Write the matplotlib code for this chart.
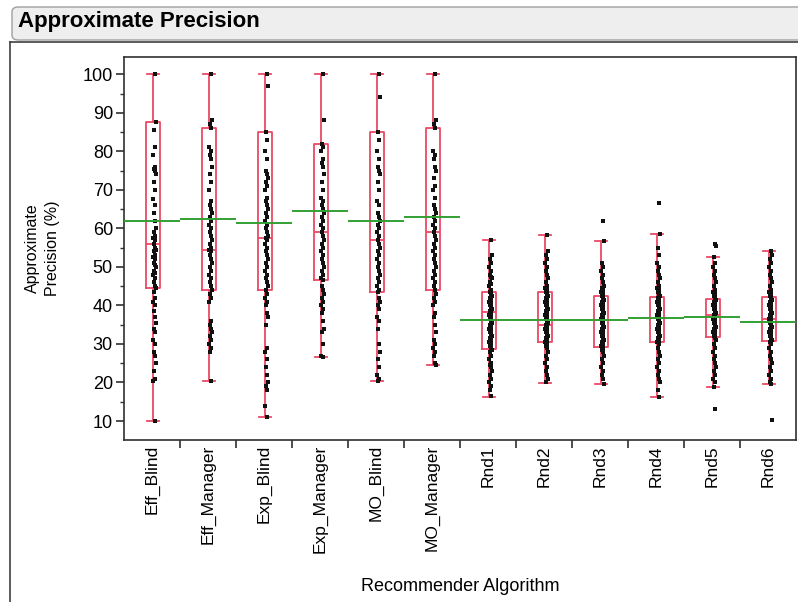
import numpy as np
import matplotlib.pyplot as plt
from matplotlib.patches import FancyBboxPatch
from matplotlib.lines import Line2D

plt.rcParams['font.family'] = ['Liberation Sans', 'DejaVu Sans']

# Skupiny (kategorie na ose x)
categories = ['Eff_Blind', 'Eff_Manager', 'Exp_Blind', 'Exp_Manager', 'MO_Blind', 'MO_Manager',
              'Rnd1', 'Rnd2', 'Rnd3', 'Rnd4', 'Rnd5', 'Rnd6']

# Statistiky krabicových grafů
whisker_low = [10, 20.5, 11, 26.5, 20.5, 24.5, 16.2, 19.8, 19.5, 16.2, 18.7, 19.6]
q1 = [44.5, 44, 44, 46.5, 43.5, 44, 28.7, 30.4, 29.2, 30.4, 31.9, 30.8]
median = [56, 54.5, 57.5, 59, 57, 59, 38.4, 35.0, 36.3, 36.7, 37.4, 36.5]
q3 = [87.5, 86, 85, 82, 85, 86, 43.4, 43.4, 42.5, 42.1, 41.6, 42.1]
whisker_high = [100, 100, 100, 100, 100, 100, 57.1, 58.4, 56.6, 58.6, 52.5, 54.0]

# Průměry skupin (zelené čáry)
means = [62, 62.5, 61.5, 64.5, 62, 63, 36.3, 36.3, 36.3, 36.7, 37.1, 35.8]

# Jednotlivá pozorování
points_eff_blind = [100, 87.5, 85.5, 81, 79, 76, 75.5, 75, 74, 72, 70, 67.5, 66, 64, 62, 60, 59, 58,
                    57.5, 57, 56, 55, 54.5, 54, 53, 52.5, 52, 51, 50.5, 50, 49, 48.5, 48, 47, 46, 45,
                    44.5, 43.5, 42, 41, 40, 38.5, 37, 35.5, 34, 33, 31, 30, 28, 27, 25, 23, 21, 20.5, 10]
points_eff_manager = [100, 88, 87, 86, 81, 80, 79, 78, 76, 74, 72, 70, 67, 66, 65, 64, 63, 62, 61, 60,
                      59, 58, 57, 56, 55, 54.5, 54, 53, 52, 51, 50, 49, 48, 47, 46, 45, 44, 43, 42, 41,
                      36, 35, 34, 33, 32, 31, 30, 29, 28, 20.5]
points_exp_blind = [100, 97, 85, 83, 80, 78, 75, 74, 73, 72, 71, 70, 68, 67, 66, 65, 64, 63, 62, 61,
                    60, 59, 58, 57.5, 57, 56, 55, 54, 53, 52, 51, 50, 49, 48, 47, 46, 45, 44, 43, 42,
                    41, 40, 38, 37, 35, 29, 28, 26, 24, 22, 20, 19, 18, 14, 11]
points_exp_manager = [100, 88, 82, 81, 80, 78, 77, 76, 74, 72, 70, 68, 67, 66, 65, 64, 63, 62, 61, 60,
                      59, 58, 57, 56, 55, 54, 53, 52, 51, 50, 49, 48, 47, 46.5, 45, 44, 43, 42, 41, 40,
                      39, 38, 36, 34, 33, 30, 27, 26.5]
points_mo_blind = [100, 94, 85, 83, 80, 78, 76, 75, 74, 72, 70, 67, 66, 64, 63, 62, 61, 60, 59, 58,
                   57, 56, 55, 54, 53, 52, 51, 50, 49, 48, 47, 46, 45, 44, 43.5, 42, 41, 40, 39, 37,
                   36, 34, 30, 28, 26, 24, 22, 21, 20.5]
points_mo_manager = [100, 88, 87, 86, 80, 79, 78, 76, 75, 73, 71, 70, 68, 66, 65, 64, 63, 62, 61, 60,
                     59, 58, 57, 56, 55, 54, 53, 52, 51, 50, 49, 48, 47, 46, 45, 44, 43, 42, 41, 40,
                     38, 37, 35, 33, 31, 30, 29, 28, 27, 25, 24.5]
points_rnd1 = [57, 53, 52, 51, 50, 49, 48, 47.5, 47, 46, 45.5, 45, 44, 43.5, 43, 42.5, 42, 41.5, 41,
               40.5, 40, 39.5, 39, 38.5, 38, 37.5, 37, 36.5, 36, 35.5, 35, 34.5, 34, 33.5, 33, 32.5,
               32, 31.5, 31, 30.5, 30, 29.5, 29, 28.5, 28, 27, 26, 25, 24.5, 24, 23, 22, 21, 20, 19,
               18, 16.5]
points_rnd2 = [58.4, 54, 53, 52, 51, 50, 49, 48, 47, 46, 45, 44.5, 44, 43.5, 43, 42.5, 42, 41.5, 41,
               40.5, 40, 39.5, 39, 38.5, 38, 37.5, 37, 36.5, 36, 35.5, 35, 34.5, 34, 33.5, 33, 32.5,
               32, 31.5, 31, 30.5, 30, 29.5, 29, 28, 27, 26, 25, 24, 23, 22, 21, 20]
points_rnd3 = [61.8, 56.6, 51, 50, 49, 48, 47, 46, 45, 44.5, 44, 43.5, 43, 42.5, 42, 41.5, 41, 40.5,
               40, 39.5, 39, 38.5, 38, 37.5, 37, 36.5, 36, 35.5, 35, 34.5, 34, 33.5, 33, 32.5, 32,
               31.5, 31, 30.5, 30, 29.5, 29, 28.5, 28, 27, 26, 25, 24, 23, 22, 21, 19.5]
points_rnd4 = [66.5, 58.6, 55, 53, 51, 50, 49, 48, 47, 46, 45, 44.5, 44, 43.5, 43, 42.5, 42, 41.5, 41,
               40.5, 40, 39.5, 39, 38.5, 38, 37.5, 37, 36.5, 36, 35.5, 35, 34.5, 34, 33.5, 33, 32.5,
               32, 31.5, 31, 30.5, 30, 29, 28, 27, 26, 25, 24, 23, 22, 21, 20, 18, 16.2]
points_rnd5 = [56, 55.5, 52.5, 51, 50, 49, 48, 47, 46, 45, 44, 43.5, 43, 42.5, 42, 41.5, 41, 40.5, 40,
               39.5, 39, 38.5, 38, 37.5, 37, 36.5, 36, 35.5, 35, 34.5, 34, 33.5, 33, 32.5, 32, 31.5,
               31, 30, 29, 28, 27, 26, 25, 24, 23, 22, 21, 20, 18.7, 13.1]
points_rnd6 = [54, 53, 52, 51, 50, 49, 48, 47, 46, 45, 44, 43.5, 43, 42.5, 42, 41.5, 41, 40.5, 40,
               39.5, 39, 38.5, 38, 37.5, 37, 36.5, 36, 35.5, 35, 34.5, 34, 33.5, 33, 32.5, 32, 31.5,
               31, 30.5, 30, 29, 28, 27, 26, 25, 24, 23, 22, 21, 20, 19.6, 10.2]

points = [points_eff_blind, points_eff_manager, points_exp_blind, points_exp_manager,
          points_mo_blind, points_mo_manager, points_rnd1, points_rnd2, points_rnd3,
          points_rnd4, points_rnd5, points_rnd6]

box_color = '#eb4a64'
mean_color = '#33a033'
axis_color = '#303030'

fig = plt.figure(figsize=(7.98, 6.02), dpi=100)

# Záhlaví panelu
title_box = FancyBboxPatch((12 / 798, (602 - 40) / 602), 800 / 798, 33 / 602,
                           boxstyle='round,pad=0,rounding_size=0.008',
                           transform=fig.transFigure, facecolor='#eeeeee',
                           edgecolor='#a0a0a0', linewidth=1.0)
fig.patches.append(title_box)
fig.text(18 / 798, (602 - 22) / 602, 'Approximate Precision', fontsize=16,
         fontweight='bold', va='center', ha='left', color='black')

# Rámeček panelu
fig.add_artist(Line2D([10 / 798, 10 / 798], [0, (602 - 42) / 602], transform=fig.transFigure,
                      color='#404040', linewidth=1.2))
fig.add_artist(Line2D([10 / 798, 1], [(602 - 42) / 602, (602 - 42) / 602],
                      transform=fig.transFigure, color='#404040', linewidth=1.2))

ax = fig.add_axes([124 / 798, 1 - 439.5 / 602, 672 / 798, (439.5 - 57.3) / 602])

positions = np.arange(len(categories))

# Krabicové grafy
stats = []
for i in range(len(categories)):
    stats.append({'whislo': whisker_low[i], 'q1': q1[i], 'med': median[i],
                  'q3': q3[i], 'whishi': whisker_high[i], 'fliers': []})
ax.bxp(stats, positions=positions + 0.02, widths=0.26, showfliers=False,
       boxprops=dict(color=box_color, linewidth=1.3),
       whiskerprops=dict(color=box_color, linewidth=1.3),
       capprops=dict(color=box_color, linewidth=1.3),
       medianprops=dict(color=box_color, linewidth=1.3), capwidths=0.22)

# Body (úzký deterministický rozptyl)
jitter = [0.0, 0.02, -0.012, 0.01, -0.02, 0.016, -0.004]
for i, vals in enumerate(points):
    xs = [positions[i] + 0.045 + jitter[k % len(jitter)] for k in range(len(vals))]
    ax.plot(xs, vals, 's', color='#111111', markersize=2.2, markeredgewidth=0, zorder=3)

# Průměry - samostatné vodorovné úsečky přes šířku skupiny
ax.hlines(means, positions - 0.5, positions + 0.5, color=mean_color, linewidth=1.4, zorder=4)

ax.set_xlim(-0.5, len(categories) - 0.5)
ax.set_ylim(5.2, 104.4)

edges = np.arange(len(categories) + 1) - 0.5
ax.set_yticks(range(10, 101, 10))
ax.set_yticks(range(15, 101, 10), minor=True)
ax.set_xticks(positions)
ax.set_xticklabels(categories, rotation=90, fontsize=12.5)
ax.set_xticks(edges[1:-1], minor=True)
ax.tick_params(axis='x', which='major', length=0, pad=4)
ax.tick_params(axis='x', which='minor', length=6, width=1.2, color=axis_color)
ax.tick_params(axis='y', which='major', length=6, width=1.2, color=axis_color, labelsize=13,
               pad=2)
ax.tick_params(axis='y', which='minor', length=3, width=1.0, color=axis_color)

for s in ax.spines.values():
    s.set_color(axis_color)
    s.set_linewidth(1.2)

ax.set_ylabel('Approximate\nPrecision (%)', fontsize=11.5, labelpad=16, linespacing=1.45)
ax.set_xlabel('Recommender Algorithm', fontsize=13, labelpad=18)

fig.savefig('out.png', dpi=100)
